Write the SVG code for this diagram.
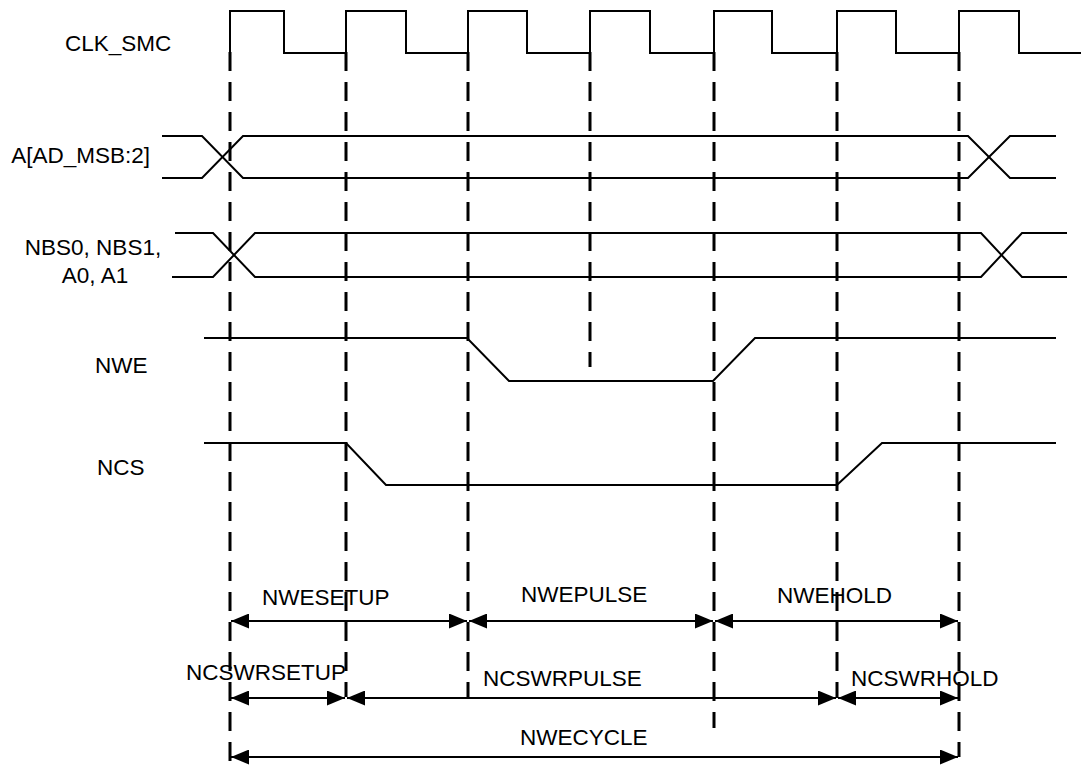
<svg xmlns="http://www.w3.org/2000/svg" width="1085" height="768" viewBox="0 0 1085 768">
<style>
.sig{fill:none;stroke:#000;stroke-width:2;stroke-linejoin:miter}
.dash{fill:none;stroke:#000;stroke-width:3;stroke-dasharray:19 11}
.arr{fill:none;stroke:#000;stroke-width:2;marker-start:url(#ah);marker-end:url(#ah)}
.lbl{font-family:"Liberation Sans",Arial,sans-serif;font-size:22.5px;fill:#000}
</style>
<defs>
<marker id="ah" viewBox="0 0 18 15" refX="18" refY="7.5" markerWidth="18" markerHeight="15" markerUnits="userSpaceOnUse" orient="auto-start-reverse">
<path d="M0,0 L18,7.5 L0,15 Z" fill="#000"/>
</marker>
</defs>
<rect width="1085" height="768" fill="#fff"/>
<g id="labels">
<text class="lbl" x="65" y="51">CLK_SMC</text>
<text class="lbl" x="150" y="163" text-anchor="end">A[AD_MSB:2]</text>
<text class="lbl" x="93" y="255" text-anchor="middle">NBS0, NBS1,</text>
<text class="lbl" x="95" y="283" text-anchor="middle">A0, A1</text>
<text class="lbl" x="95" y="373">NWE</text>
<text class="lbl" x="97" y="475">NCS</text>
</g>
<g id="clk">
<path class="sig" d="M230,53 V11 H284 V53 H346 V11 H406 V53 H468 V11 H527 V53 H590 V11 H650 V53 H714 V11 H772 V53 H837 V11 H896 V53 H959 V11 H1019 V53 H1081"/>
</g>
<g id="addr">
<path class="sig" d="M162,136 H202 L243,178 H968 L1010,136 H1056"/>
<path class="sig" d="M162,178 H202 L243,136 H968 L1010,178 H1056"/>
</g>
<g id="nbs">
<path class="sig" d="M175,233 H213 L255,277 H981 L1022,233 H1067"/>
<path class="sig" d="M172,277 H213 L255,233 H981 L1022,277 H1067"/>
</g>
<g id="nwe">
<path class="sig" d="M204,338 H467 L509,381 H713 L755,338 H1056"/>
</g>
<g id="ncs">
<path class="sig" d="M204,443 H346 L386,485 H837 L882,443 H1056"/>
</g>
<g id="guides">
<line class="dash" x1="230" y1="52" x2="230" y2="768"/>
<line class="dash" x1="346" y1="52" x2="346" y2="697"/>
<line class="dash" x1="468" y1="52" x2="468" y2="698"/>
<line class="dash" x1="590" y1="52" x2="590" y2="367"/>
<line class="dash" x1="714" y1="52" x2="714" y2="728"/>
<line class="dash" x1="837" y1="52" x2="837" y2="698"/>
<line class="dash" x1="959" y1="52" x2="959" y2="757"/>
</g>
<g id="connectors">
<line class="arr" x1="231" y1="621" x2="467" y2="621"/>
<line class="arr" x1="469" y1="621" x2="713" y2="621"/>
<line class="arr" x1="715" y1="621" x2="958" y2="621"/>
<line class="arr" x1="231" y1="698" x2="345" y2="698"/>
<line class="arr" x1="347" y1="698" x2="836" y2="698"/>
<line class="arr" x1="838" y1="698" x2="958" y2="698"/>
<line class="arr" x1="231" y1="757" x2="958" y2="757"/>
</g>
<g id="timing-labels">
<text class="lbl" x="262" y="605">NWESETUP</text>
<text class="lbl" x="521" y="602">NWEPULSE</text>
<text class="lbl" x="777" y="603">NWEHOLD</text>
<text class="lbl" x="186" y="680">NCSWRSETUP</text>
<text class="lbl" x="483" y="686">NCSWRPULSE</text>
<text class="lbl" x="851" y="686">NCSWRHOLD</text>
<text class="lbl" x="520" y="745">NWECYCLE</text>
</g>
</svg>
